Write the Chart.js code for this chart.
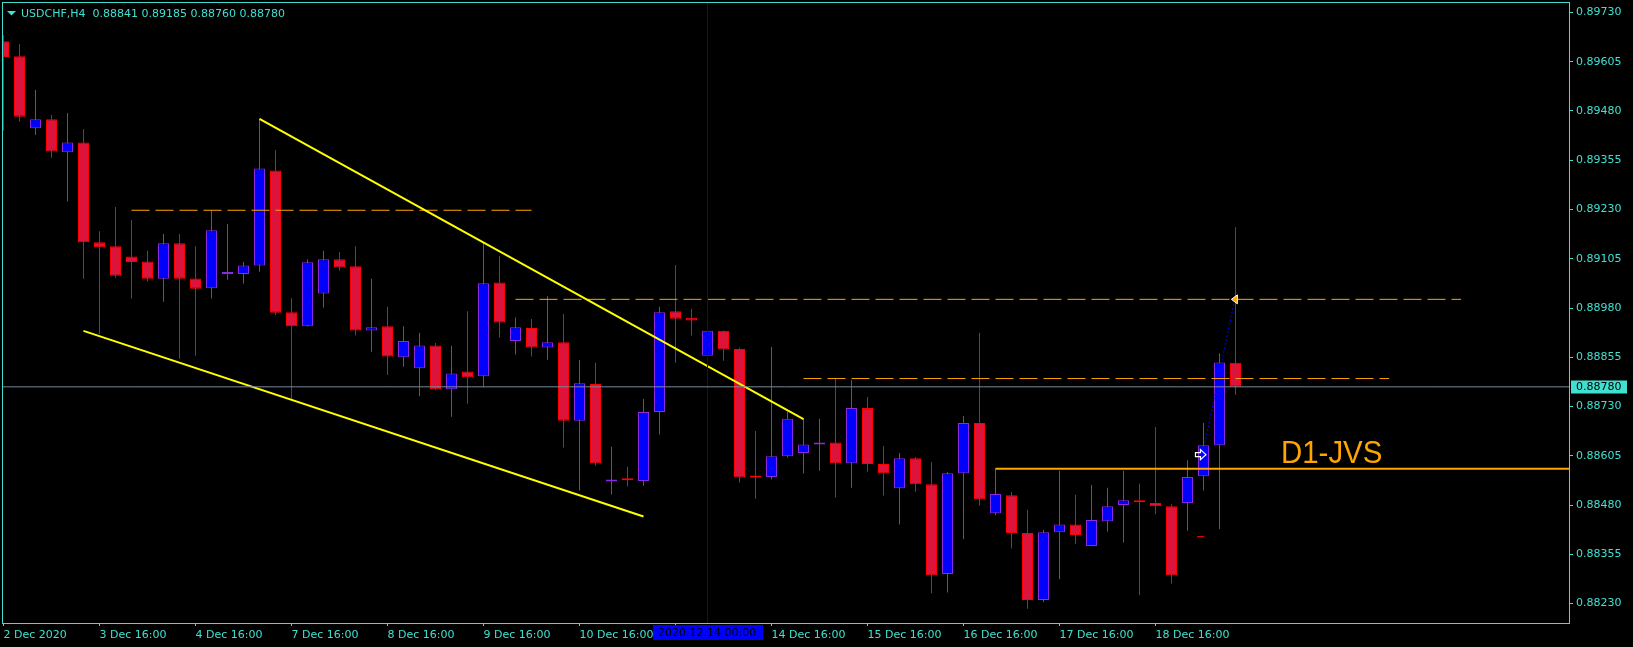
<!DOCTYPE html>
<html><head><meta charset="utf-8">
<script src="https://cdn.jsdelivr.net/npm/chart.js@4/dist/chart.umd.min.js"></script>
<style>html,body{margin:0;padding:0;background:#000;overflow:hidden}canvas{display:block}</style>
</head><body>
<canvas id="c" width="1633" height="647"></canvas>
<script>
// ---------- DATA ----------
const symbolTitle = "USDCHF,H4  0.88841 0.89185 0.88760 0.88780";
const opens  = [0.89657,0.89619,0.89436,0.89459,0.89375,0.89400,0.89147,0.89137,0.89111,0.89098,
                0.89054,0.89144,0.89055,0.89030,0.89066,0.89066,0.89088,0.89329,0.88969,0.88934,
                0.89017,0.89104,0.89086,0.88923,0.88934,0.88855,0.88827,0.88885,0.88774,0.88819,
                0.88807,0.89045,0.88896,0.88929,0.88880,0.88893,0.88694,0.88787,0.88540,0.88545,
                0.88541,0.88716,0.88972,0.88955,0.88859,0.88922,0.88876,0.88552,0.88551,0.88604,
                0.88612,0.88634,0.88639,0.88586,0.88726,0.88584,0.88523,0.88599,0.88533,0.88305,
                0.88561,0.88688,0.88459,0.88505,0.88409,0.88239,0.88411,0.88431,0.88376,0.88439,
                0.88480,0.88489,0.88485,0.88477,0.88485,0.88553,0.88632,0.88841];
const highs  = [0.89672,0.89650,0.89533,0.89470,0.89475,0.89434,0.89175,0.89236,0.89203,0.89125,
                0.89168,0.89168,0.89137,0.89228,0.89193,0.89097,0.89460,0.89381,0.89005,0.89104,
                0.89125,0.89122,0.89137,0.89054,0.88983,0.88934,0.88917,0.88891,0.88884,0.88972,
                0.89144,0.89112,0.88956,0.88952,0.89010,0.88965,0.88848,0.88841,0.88628,0.88577,
                0.88749,0.88983,0.89089,0.88978,0.88927,0.88923,0.88879,0.88668,0.88881,0.88716,
                0.88700,0.88699,0.88802,0.88797,0.88754,0.88630,0.88612,0.88602,0.88589,0.88564,
                0.88706,0.88917,0.88573,0.88513,0.88468,0.88417,0.88567,0.88506,0.88531,0.88524,
                0.88567,0.88534,0.88678,0.88482,0.88594,0.88688,0.88865,0.89185];
const lows   = [0.89430,0.89453,0.89419,0.89361,0.89250,0.89054,0.88914,0.89057,0.89004,0.89047,
                0.88996,0.88851,0.88859,0.89004,0.89052,0.89042,0.89072,0.88962,0.88749,0.88933,
                0.88981,0.89075,0.88911,0.88869,0.88810,0.88831,0.88756,0.88772,0.88704,0.88737,
                0.88779,0.88905,0.88862,0.88857,0.88849,0.88626,0.88517,0.88580,0.88507,0.88527,
                0.88529,0.88659,0.88841,0.88910,0.88853,0.88846,0.88537,0.88496,0.88545,0.88600,
                0.88560,0.88567,0.88499,0.88524,0.88565,0.88504,0.88431,0.88514,0.88256,0.88258,
                0.88393,0.88479,0.88454,0.88370,0.88217,0.88234,0.88292,0.88382,0.88376,0.88413,
                0.88385,0.88251,0.88457,0.88281,0.88415,0.88517,0.88419,0.88760];
const closes = [0.89617,0.89465,0.89459,0.89377,0.89400,0.89147,0.89134,0.89062,0.89097,0.89054,
                0.89144,0.89054,0.89029,0.89177,0.89067,0.89088,0.89334,0.88968,0.88934,0.89096,
                0.89104,0.89083,0.88923,0.88931,0.88857,0.88896,0.88885,0.88774,0.88814,0.88804,
                0.89043,0.88943,0.88931,0.88880,0.88893,0.88694,0.88789,0.88586,0.88541,0.88543,
                0.88716,0.88969,0.88953,0.88948,0.88922,0.88875,0.88550,0.88550,0.88604,0.88699,
                0.88634,0.88639,0.88586,0.88726,0.88584,0.88561,0.88599,0.88533,0.88302,0.88561,
                0.88688,0.88495,0.88508,0.88409,0.88239,0.88411,0.88431,0.88404,0.88442,0.88477,
                0.88492,0.88487,0.88477,0.88302,0.88551,0.88632,0.88842,0.88780];

const timeTickIndex  = [0,6,12,18,24,30,36,42,48,54,60,66,72];
const timeTickLabels = ["2 Dec 2020","3 Dec 16:00","4 Dec 16:00","7 Dec 16:00","8 Dec 16:00",
                        "9 Dec 16:00","10 Dec 16:00","11 Dec 16:00","14 Dec 16:00","15 Dec 16:00",
                        "16 Dec 16:00","17 Dec 16:00","18 Dec 16:00"];
const priceTicks = [0.89730,0.89605,0.89480,0.89355,0.89230,0.89105,0.88980,0.88855,0.88730,0.88605,0.88480,0.88355,0.88230];

const lastPrice = 0.88780;
const crosshairIndex = 44;
const crosshairLabel = "2020.12.14 00:00";

// drawn objects (candle index, price)
const trendUpper = [{x:16, y:0.89460},{x:50, y:0.88698}];
const trendLower = [{x:5,  y:0.88922},{x:40, y:0.88451}];
const levelA = [{x:8,  y:0.89228},{x:33,   y:0.89228}];
const levelB = [{x:32, y:0.89002},{x:91.1, y:0.89002}];
const levelC = [{x:50, y:0.88801},{x:86.6, y:0.88801}];
const levelD1 = [{x:62, y:0.88572},{x:99, y:0.88572}];
const tradeLine = [{x:75.09, y:0.88638},{x:76.94, y:0.89000}];
const stopMark = [{x:74.6, y:0.88400},{x:75.05, y:0.88400}];
const openArrow = {x:74.81, y:0.88608};
const closeArrow = {x:76.93, y:0.89002};
const labelD1 = {text:"D1-JVS", x:79.84, y:0.88587};

// ---------- STYLE ----------
const TURQ = '#40E0D0';
const XMIN = -0.09375, XMAX = 97.84375;
const YMIN = 0.881808, YMAX = 0.897564;
const FONT = "'DejaVu Sans', sans-serif";

const n = opens.length;
const idx = [...Array(n).keys()];
const isBull = idx.map(i => closes[i] >= opens[i]);

function lineDs(data, color, width, dash){
  return {type:'line', data, borderColor:color, borderWidth:width, borderDash:dash||[],
          pointRadius:0, fill:false, tension:0, order:0};
}

const datasets = [
  lineDs([{x:XMIN,y:lastPrice},{x:XMAX,y:lastPrice}], '#778899', 1),
  lineDs([{x:crosshairIndex,y:YMIN},{x:crosshairIndex,y:YMAX}], '#0000CD', 1),
  lineDs(trendUpper, '#FFFF00', 2),
  lineDs(trendLower, '#FFFF00', 2),
  lineDs(levelA, '#FFA500', 1, [18,6]),
  lineDs(levelB, '#FFA500', 1, [18,6]),
  lineDs(levelC, '#FFA500', 1, [18,6]),
  lineDs(levelD1, '#FFA500', 2),
  lineDs(tradeLine, '#0000FF', 1, [2,2]),
  lineDs(stopMark, '#FF0000', 1),
  {type:'bar', order:1, data: idx.map(i => ({x:i, y:[opens[i], closes[i]]})),
   backgroundColor: idx.map(i => isBull[i] ? '#0000FF' : '#DC143C'),
   borderColor: idx.map(i => isBull[i] ? '#8A2BE2' : '#FF0000'),
   borderWidth:1, borderSkipped:false, barThickness:11, grouped:false, minBarLength:2, inflateAmount:0},
  {type:'bar', order:2, data: idx.map(i => ({x:i, y:[lows[i], highs[i]]})),
   backgroundColor: idx.map(i => isBull[i] ? '#8A2BE2' : '#FF0000'),
   borderWidth:0, barThickness:1, grouped:false, inflateAmount:0}
];

const overlay = {
  id:'overlay',
  afterDraw(chart){
    const ctx = chart.ctx, ca = chart.chartArea;
    const xs = chart.scales.x, ys = chart.scales.y;
    ctx.save();
    // frame
    ctx.strokeStyle = TURQ; ctx.lineWidth = 1;
    ctx.strokeRect(Math.round(ca.left)+0.5, Math.round(ca.top)+0.5, Math.round(ca.right-ca.left), Math.round(ca.bottom-ca.top));
    // D1 label
    ctx.save();
    ctx.beginPath(); ctx.rect(ca.left, ca.top, ca.right-ca.left, ca.bottom-ca.top); ctx.clip();
    ctx.fillStyle = '#FFA500';
    ctx.font = "31px 'Liberation Sans', Arial, sans-serif";
    ctx.textBaseline = 'alphabetic';
    const lx = xs.getPixelForValue(labelD1.x), ly = ys.getPixelForValue(labelD1.y);
    ctx.translate(lx, ly); ctx.scale(0.95, 1);
    ctx.fillText(labelD1.text, 0, 0);
    ctx.restore();
    // open arrow (white hollow right arrow)
    {
      const cx = xs.getPixelForValue(openArrow.x), cy = ys.getPixelForValue(openArrow.y);
      ctx.beginPath();
      ctx.moveTo(cx-5, cy-2); ctx.lineTo(cx, cy-2); ctx.lineTo(cx, cy-5); ctx.lineTo(cx+5.5, cy);
      ctx.lineTo(cx, cy+5); ctx.lineTo(cx, cy+2); ctx.lineTo(cx-5, cy+2); ctx.closePath();
      ctx.strokeStyle = '#FFFFFF'; ctx.lineWidth = 1.2; ctx.stroke();
    }
    // close arrow (left pointing)
    {
      const cx = xs.getPixelForValue(closeArrow.x), cy = ys.getPixelForValue(closeArrow.y);
      ctx.beginPath();
      ctx.moveTo(cx-3, cy); ctx.lineTo(cx+3, cy-4.5); ctx.lineTo(cx+3, cy+4.5); ctx.closePath();
      ctx.fillStyle = '#FFA500'; ctx.fill();
      ctx.strokeStyle = '#FFFFFF'; ctx.lineWidth = 1; ctx.stroke();
    }
    // header
    ctx.fillStyle = TURQ;
    ctx.beginPath(); ctx.moveTo(7,11); ctx.lineTo(16,11); ctx.lineTo(11.5,15.5); ctx.closePath(); ctx.fill();
    ctx.font = "11px " + FONT; ctx.textBaseline = 'alphabetic'; ctx.textAlign = 'left';
    ctx.fillText(symbolTitle, 21, 17);
    // last price box
    const py = ys.getPixelForValue(lastPrice);
    ctx.fillStyle = TURQ; ctx.fillRect(1571, Math.round(py) - 6.5, 56, 13);
    ctx.fillStyle = '#000'; ctx.textBaseline = 'middle';
    ctx.fillText(lastPrice.toFixed(5), 1576, Math.round(py));
    // crosshair time box
    const cxp = xs.getPixelForValue(crosshairIndex);
    ctx.fillStyle = '#0000FF'; ctx.fillRect(Math.round(cxp) - 55, 625, 110, 15);
    ctx.fillStyle = '#000'; ctx.fillText(crosshairLabel, Math.round(cxp) - 50, 633);
    ctx.restore();
  }
};

new Chart(document.getElementById('c'), {
  type:'bar',
  data:{datasets},
  options:{
    responsive:false, animation:false, devicePixelRatio:1,
    layout:{padding:{left:2, top:2, right:0, bottom:0}},
    plugins:{legend:{display:false}, tooltip:{enabled:false}},
    scales:{
      x:{type:'linear', position:'bottom', min:XMIN, max:XMAX, offset:false,
         grid:{drawOnChartArea:false, drawTicks:true, tickLength:3, color:TURQ, offset:false},
         border:{display:false},
         ticks:{autoSkip:false, maxRotation:0, minRotation:0, align:'start', padding:3, color:TURQ,
                font:{family:'DejaVu Sans', size:11},
                callback:(v,i)=>timeTickLabels[i] ?? ''},
         afterBuildTicks:s=>{ s.ticks = timeTickIndex.map(v=>({value:v})); },
         afterFit:s=>{ s.height = 24; s.paddingLeft = 0; s.paddingRight = 0; }
      },
      y:{type:'linear', position:'right', min:YMIN, max:YMAX,
         grid:{drawOnChartArea:false, drawTicks:true, tickLength:4, color:TURQ},
         border:{display:false},
         ticks:{color:TURQ, padding:3, font:{family:'DejaVu Sans', size:11},
                callback:v=>Number(v).toFixed(5)},
         afterBuildTicks:s=>{ s.ticks = priceTicks.map(v=>({value:v})); },
         afterFit:s=>{ s.width = 64; s.paddingTop = 0; s.paddingBottom = 0; }
      }
    }
  },
  plugins:[overlay]
});
</script>
</body></html>
